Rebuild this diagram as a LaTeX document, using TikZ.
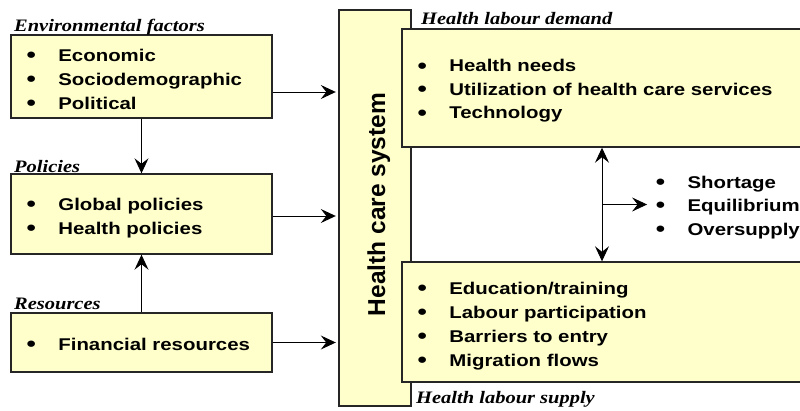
\documentclass[tikz,border=0pt]{standalone}
\usepackage{fontspec}
\setmainfont{Liberation Sans}[FakeStretch=1.2]
\newfontfamily\capfont{Liberation Serif}[FakeStretch=1.17]
\newfontfamily\sysfont{Liberation Sans}
\usetikzlibrary{arrows.meta,calc}
\definecolor{boxfill}{HTML}{FFFFCC}
\newcommand\itemlist[1]{\begin{tabular}[t]{@{}l@{\hspace{22.5pt}}l@{}}#1\end{tabular}}
\newcommand\bul{\raisebox{-1.3pt}{\scalebox{1.3}{\textbullet}}}
\tikzset{
  box/.style={draw=black!85, line width=1.4pt, fill=boxfill, inner sep=0pt},
  lab/.style={font=\capfont\bfseries\itshape\fontsize{17.5}{20}\selectfont, inner sep=0pt, anchor=base west},
  items/.style={font=\fontsize{17}{24}\selectfont\bfseries, inner sep=0pt, anchor=base west},
  itemsb/.style={font=\fontsize{17}{23.5}\selectfont\bfseries, inner sep=0pt, anchor=base west},
  arr/.style={line width=0.9pt, -{Stealth[length=15pt,width=14pt,inset=5.5pt]}},
  darr/.style={line width=0.9pt, {Stealth[length=15pt,width=14pt,inset=5.5pt]}-{Stealth[length=15pt,width=14pt,inset=5.5pt]}}
}
\begin{document}
\begin{tikzpicture}[x=1pt,y=-1pt]
\path[use as bounding box] (0,0) rectangle (800,410);
\clip (0,0) rectangle (800,410);

% left column: driving factors
\node[box, minimum width=261pt, minimum height=83pt] (env) at (141.5,76.5) {};
\node[box, minimum width=261pt, minimum height=80pt] (pol) at (141.5,214) {};
\node[box, minimum width=261pt, minimum height=59pt] (res) at (141.5,342.5) {};

\node[lab] (envlab) at (14,31) {Environmental factors};
\node[lab] (pollab) at (14,172) {Policies};
\node[lab] (reslab) at (14,309) {Resources};

\node[items] (envlist) at (26.4,61) {\itemlist{\bul & Economic\\ \bul & Sociodemographic\\ \bul & Political}};
\node[items] (pollist) at (26.4,210) {\itemlist{\bul & Global policies\\ \bul & Health policies}};
\node[items] (reslist) at (26.4,350) {\itemlist{\bul & Financial resources}};

% central health care system bar
\node[box, minimum width=72pt, minimum height=396pt] (hcs) at (375,208) {};
\node[rotate=90, anchor=base, inner sep=0pt, font=\sysfont\bfseries\fontsize{24.5}{28}\selectfont] (hcstext) at (385,204.5) {Health care system};

% right column: demand and supply
\node[box, minimum width=418pt, minimum height=118pt] (dem) at (611,88) {};
\node[box, minimum width=418pt, minimum height=120pt] (sup) at (611,322) {};

\node[lab] (demlab) at (421,24) {Health labour demand};
\node[lab] (suplab) at (416,403) {Health labour supply};

\node[itemsb] (demlist) at (417.4,71.7) {\itemlist{\bul & Health needs\\ \bul & Utilization of health care services\\ \bul & Technology}};
\node[items] (suplist) at (417.4,294) {\itemlist{\bul & Education/training\\ \bul & Labour participation\\ \bul & Barriers to entry\\ \bul & Migration flows}};

\node[itemsb] (outlist) at (655.6,188) {\itemlist{\bul & Shortage\\ \bul & Equilibrium\\ \bul & Oversupply}};

% connectors
\draw[arr] (env.south) -- (pol.north);
\draw[arr] (res.north) -- (pol.south);
\draw[arr, shorten >=2.5pt] ([yshift=-15.5pt]env.east) coordinate (e1) -- (e1 -| hcs.west);
\draw[arr, shorten >=2.5pt] ([yshift=-2pt]pol.east) coordinate (p1) -- (p1 -| hcs.west);
\draw[arr, shorten >=2.5pt] (res.east) coordinate (r1) -- (r1 -| hcs.west);

\draw[darr] ([xshift=-9pt]dem.south) coordinate (d1) -- (d1 |- sup.north) coordinate (s1);
\coordinate (mid) at ($(d1)!0.5!(s1)$);
\draw[arr, shorten >=8.5pt] (mid) -- (mid -| outlist.west);
\end{tikzpicture}
\end{document}
